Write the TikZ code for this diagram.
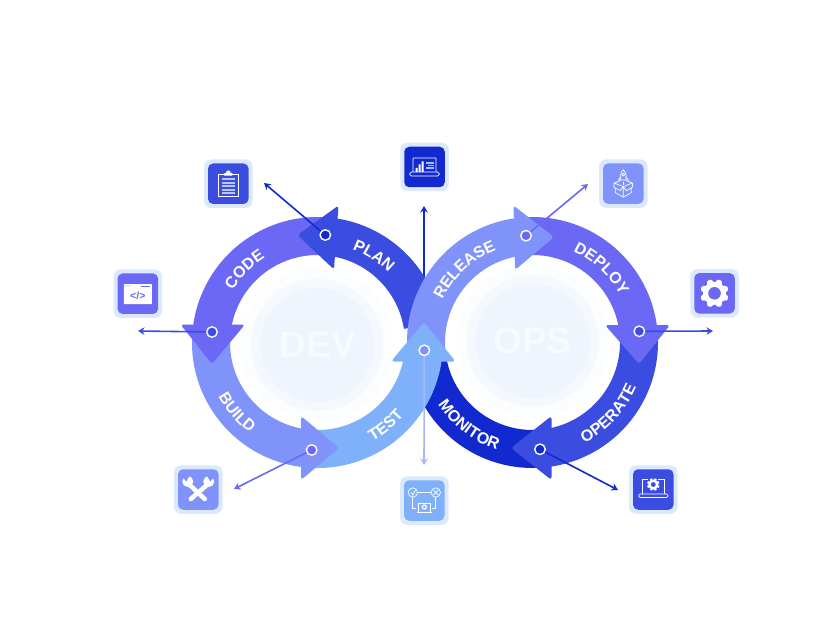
\documentclass[tikz,border=0pt]{standalone}
\usepackage{fontspec}
\setmainfont{Liberation Sans}
\usetikzlibrary{calc,arrows.meta,decorations.text}
\definecolor{cA}{HTML}{3B4DE0}
\definecolor{cB}{HTML}{6B68F6}
\definecolor{cC}{HTML}{7F93FB}
\definecolor{cD}{HTML}{7FB1FB}
\definecolor{cE}{HTML}{1229CF}
\definecolor{cTile}{HTML}{DCE9FD}
\definecolor{cP}{HTML}{FBFDFE}
\definecolor{cQ}{HTML}{F5F9FD}
\definecolor{cR}{HTML}{EEF5FC}
\definecolor{cT}{HTML}{F8FBFF}
\definecolor{cLine}{HTML}{B9C6FB}
\newcommand\lblfont{\fontsize{16}{16}\selectfont\bfseries\color{white}}
\newcommand\band[4]{\fill[#1] ($(#2)+(#3:125.5pt)$) arc[start angle=#3,end angle=#4,radius=125.5pt]
  -- ($(#2)+(#4:87.5pt)$) arc[start angle=#4,end angle=#3,radius=87.5pt] -- cycle;}
\newcommand\toplabel[3]{\path[decorate,decoration={text along path,text align=center,text={|\lblfont|#3}}]
  ($(#1)+(#2+45:99.5pt)$) arc[start angle=#2+45,end angle=#2-45,radius=99.5pt];}
\newcommand\botlabel[3]{\path[decorate,decoration={text along path,text align=center,text={|\lblfont|#3}}]
  ($(#1)+(#2-45:113pt)$) arc[start angle=#2-45,end angle=#2+45,radius=113pt];}
\tikzset{x=1pt,y=-1pt,
  headshape/.style={rounded corners=3pt},
  dotnode/.style={circle,draw=white,line width=1.4pt,minimum size=10.5pt,inner sep=0pt},
  conn/.style={line width=1.6pt,-{Stealth[length=6.5pt,width=7.5pt,inset=2pt]}},
  tileouter/.style={rectangle,fill=cTile,minimum size=48.5pt,rounded corners=7pt,inner sep=0pt},
  tileinner/.style={rectangle,minimum size=40.5pt,rounded corners=5pt,inner sep=0pt},
  ringtext/.style={text=cT,font=\fontsize{37}{37}\selectfont\bfseries},
  iconline/.style={draw=white,line width=.7pt},
}
\begin{document}
\begin{tikzpicture}
\useasboundingbox (0,0) rectangle (821,636);
\fill[white] (0,0) rectangle (821,636);
\coordinate (L) at (317.5,342.5);
\coordinate (R) at (532.5,342.5);
% pale discs
\foreach \cn/\rr/\col in {{317,345}/76/cP,{317,345}/66/cQ,{317,345}/57/cR,{532.5,341}/76/cP,{532.5,341}/66/cQ,{532.5,341}/57/cR}{
  \fill[\col] (\cn) circle[radius=\rr pt];
}
\node[ringtext] (dev) at (318,345) {DEV};
\node[ringtext] (ops) at (532.5,341) {OPS};
% hidden start of the monitor connector
\coordinate (mstart) at (424,350);
\coordinate (emon) at (424,206);
\draw[conn,draw=cE] (mstart) -- (emon);
% bands
\band{cA}{L}{9}{84}
\band{cB}{L}{82}{175}
\band{cC}{L}{175}{264}
\band{cE}{R}{186}{278}
\band{cA}{R}{-84}{8}
\band{cB}{R}{6}{98}
\band{cC}{R}{186}{96}
\band{cD}{L}{-98}{-8}
% heads
\fill[cA,headshape] (297.5,235) -- (338.5,205.5) -- (334,269.5) -- cycle;
\fill[cB,headshape] (212,364) -- (180.5,324.5) -- (245,324.5) -- cycle;
\fill[cC,headshape] (339,448) -- (301,416) -- (301,480) -- cycle;
\fill[cD,headshape] (424,322) -- (391,361.5) -- (455.5,361.5) -- cycle;
\fill[cC,headshape] (554,237) -- (513.5,205.5) -- (515,270) -- cycle;
\fill[cB,headshape] (639,364) -- (605,325) -- (670,325) -- cycle;
\fill[cA,headshape] (511,448) -- (551.5,416) -- (551.5,480) -- cycle;
% labels
\toplabel{L}{135}{CODE}
\toplabel{L}{57}{PLAN}
\botlabel{L}{221}{BUILD}
\botlabel{L}{-50.5}{TEST}
\toplabel{R}{133}{RELEASE}
\toplabel{R}{47}{DEPLOY}
\botlabel{R}{-43}{OPERATE}
\botlabel{R}{232.5}{MONITOR}
% dots
\node[dotnode,fill=cE] (dplan) at (325.3,235) {};
\node[dotnode,fill=cA] (dcode) at (212,332) {};
\node[dotnode,fill=cB] (dbuild) at (311.7,450) {};
\node[dotnode,fill=cC] (dtest) at (424.3,350.3) {};
\node[dotnode,fill=cB] (drel) at (526,235.7) {};
\node[dotnode,fill=cA] (ddep) at (639.3,331.3) {};
\node[dotnode,fill=cE] (dope) at (540,449.3) {};
% free ends
\coordinate (eplan) at (264,183);
\coordinate (ecode) at (138,331);
\coordinate (ebuild) at (234,489);
\coordinate (etest) at (424,465);
\coordinate (erel) at (588,184);
\coordinate (edep) at (713,331);
\coordinate (eope) at (618,490);
\draw[conn,draw=cE] (dplan) -- (eplan);
\draw[conn,draw=cA] (dcode) -- (ecode);
\draw[conn,draw=cB] (dbuild) -- (ebuild);
\draw[conn,draw=cLine!70!cC] (dtest) -- (etest);
\draw[conn,draw=cB] (drel) -- (erel);
\draw[conn,draw=cA] (ddep) -- (edep);
\draw[conn,draw=cE] (dope) -- (eope);
% tiles
\node[tileouter] (tclip) at (228.3,183.7) {};
\node[tileinner,fill=cA] (tclipi) at (tclip) {};
\node[tileouter] (tcodeicon) at (137.8,293.7) {};
\node[tileinner,fill=cB] (tcodei) at (tcodeicon) {};
\node[tileouter] (ttools) at (198.3,489.5) {};
\node[tileinner,fill=cC] (ttoolsi) at (ttools) {};
\node[tileouter] (tflow) at (424.3,500.5) {};
\node[tileinner,fill=cD] (tflowi) at (tflow) {};
\node[tileouter] (tchart) at (424.5,167) {};
\node[tileinner,fill=cE] (tcharti) at (tchart) {};
\node[tileouter] (trocket) at (623.3,183.6) {};
\node[tileinner,fill=cC] (trocketi) at (trocket) {};
\node[tileouter] (tgear) at (714.5,293.3) {};
\node[tileinner,fill=cB] (tgeari) at (tgear) {};
\node[tileouter] (tlap) at (653.3,489.5) {};
\node[tileinner,fill=cA] (tlapi) at (tlap) {};
% clipboard
\begin{scope}[shift={(tclip.center)}]
  \draw[iconline] (-10,-9.5) rectangle (10,13);
  \fill[white,rounded corners=.8pt] (-4.5,-8) -- (-4.5,-10.5) -- (-2,-10.5) -- (-2,-13) -- (2,-13) -- (2,-10.5) -- (4.5,-10.5) -- (4.5,-8) -- cycle;
  \foreach \yy in {-4.5,-1,2.5,6,9.5}{\draw[cLine,line width=2pt] (-6.3,\yy) -- (6.3,\yy);}
\end{scope}
% code window
\begin{scope}[shift={(tcodeicon.center)}]
  \fill[white,rounded corners=.6pt] (-14,-9.5) rectangle (14,10.5);
  \fill[cB] (-12,-7.7) circle[radius=.5pt] (-10,-7.7) circle[radius=.5pt] (-8,-7.7) circle[radius=.5pt];
  \draw[cB,line width=.8pt] (3,-7.7) -- (12,-7.7);
  \node[text=cB,font=\fontsize{10.5}{10.5}\selectfont\bfseries,inner sep=0pt] (codetag) at (0,2) {</>};
\end{scope}
% tools
\begin{scope}[shift={(ttools.center)}]
  \draw[white,line width=4.5pt,line cap=round] (-8,-4) -- (6.5,9.5);
  \draw[white,line width=4.5pt,line cap=round] (8,-4) -- (-7.5,9.5);
  \fill[white] (-10.5,-8) circle[radius=5.5pt] (10.5,-8) circle[radius=5.5pt];
  \fill[cC] (-12,-8) -- (-17,-14) -- (-8,-15) -- cycle;
  \fill[cC] (12,-8) -- (17,-14) -- (8,-15) -- cycle;
\end{scope}
% flow
\begin{scope}[shift={(tflow.center)}]
  \draw[iconline] (-11.5,-8) circle[radius=4.7pt] (11.5,-8) circle[radius=4.7pt];
  \draw[iconline] (-6.8,-8) -- (6.8,-8);
  \draw[iconline] (-13.5,-8) -- (-11.5,-5.5) -- (-8.8,-10.5);
  \draw[iconline] (9,-10.5) -- (14,-5.5) (14,-10.5) -- (9,-5.5);
  \draw[iconline] (-11.5,-3.3) -- (-11.5,8) -- (-8,8);
  \draw[iconline] (11.5,-3.3) -- (11.5,8) -- (8,8);
  \draw[iconline] (-6,11) -- (-6,3) -- (6,3) -- (6,11);
  \draw[iconline] (-7.5,12) -- (7.5,12);
  \draw[white,line width=1.2pt] (0,6.5) circle[radius=2pt];
\end{scope}
% chart laptop
\begin{scope}[shift={(tchart.center)}]
  \draw[iconline,rounded corners=.6pt] (-11.5,5) -- (-11.5,-9) -- (11.5,-9) -- (11.5,5);
  \draw[iconline,rounded corners=1.5pt] (-14.7,5) rectangle (14.7,9);
  \fill[white] (-8.8,1) rectangle (-6.9,5) (-5.9,-2.5) rectangle (-4,5) (-3,-5.5) rectangle (-1,5);
  \foreach \yy/\xa in {-4/1,-1.5/3,1/1}{\draw[cLine!70!cD,line width=1.1pt] (\xa,\yy) -- (9.5,\yy);}
\end{scope}
% rocket
\begin{scope}[shift={(trocket.center)}]
  \draw[iconline] (0,-14) .. controls (-3.2,-11) and (-3,-7) .. (-2.5,-3.5) -- (2.5,-3.5) .. controls (3,-7) and (3.2,-11) .. (0,-14);
  \draw[iconline] (-2.7,-7) -- (-5,-3.5) -- (-2.5,-3.5) (2.7,-7) -- (5,-3.5) -- (2.5,-3.5);
  \draw[iconline] (0,-9) circle[radius=1.4pt];
  \draw[iconline] (0,-2) -- (0,1.5);
  \draw[iconline] (0,3) -- (-9,-.5) -- (-3,-3) (0,3) -- (9,-.5) -- (3,-3);
  \draw[iconline] (-9,-.5) -- (-9.5,3) -- (-8,4.5) -- (-8,9) -- (0,13.5) -- (8,9) -- (8,4.5) -- (9.5,3) -- (9,-.5);
  \draw[iconline] (0,3) -- (0,13.5) (0,3) -- (-3,7) -- (-8,4.5) (0,3) -- (3,7) -- (8,4.5);
\end{scope}
% gear
\begin{scope}[shift={(tgear.center)}]
  \foreach \aa in {0,45,...,315}{\draw[white,line width=6.5pt,line cap=round] (\aa+22.5:8.5pt) -- (\aa+22.5:11.3pt);}
  \fill[white] (0,0) circle[radius=11.5pt];
  \fill[cB] (0,0) circle[radius=6.3pt];
\end{scope}
% gear laptop
\begin{scope}[shift={(tlap.center)}]
  \draw[iconline] (-5,-10) -- (-11,-10) -- (-11,4.5) (5,-10) -- (11,-10) -- (11,4.5);
  \draw[iconline,rounded corners=1.5pt] (-14.7,4.5) rectangle (14.7,8);
  \foreach \aa in {0,45,...,315}{\draw[white,line width=2.4pt] ($(0,-5)+(\aa+22.5:4pt)$) -- ($(0,-5)+(\aa+22.5:6.2pt)$);}
  \fill[white] (0,-5) circle[radius=5pt];
  \fill[cA] (0,-5) circle[radius=2.4pt];
\end{scope}
\end{tikzpicture}
\end{document}
